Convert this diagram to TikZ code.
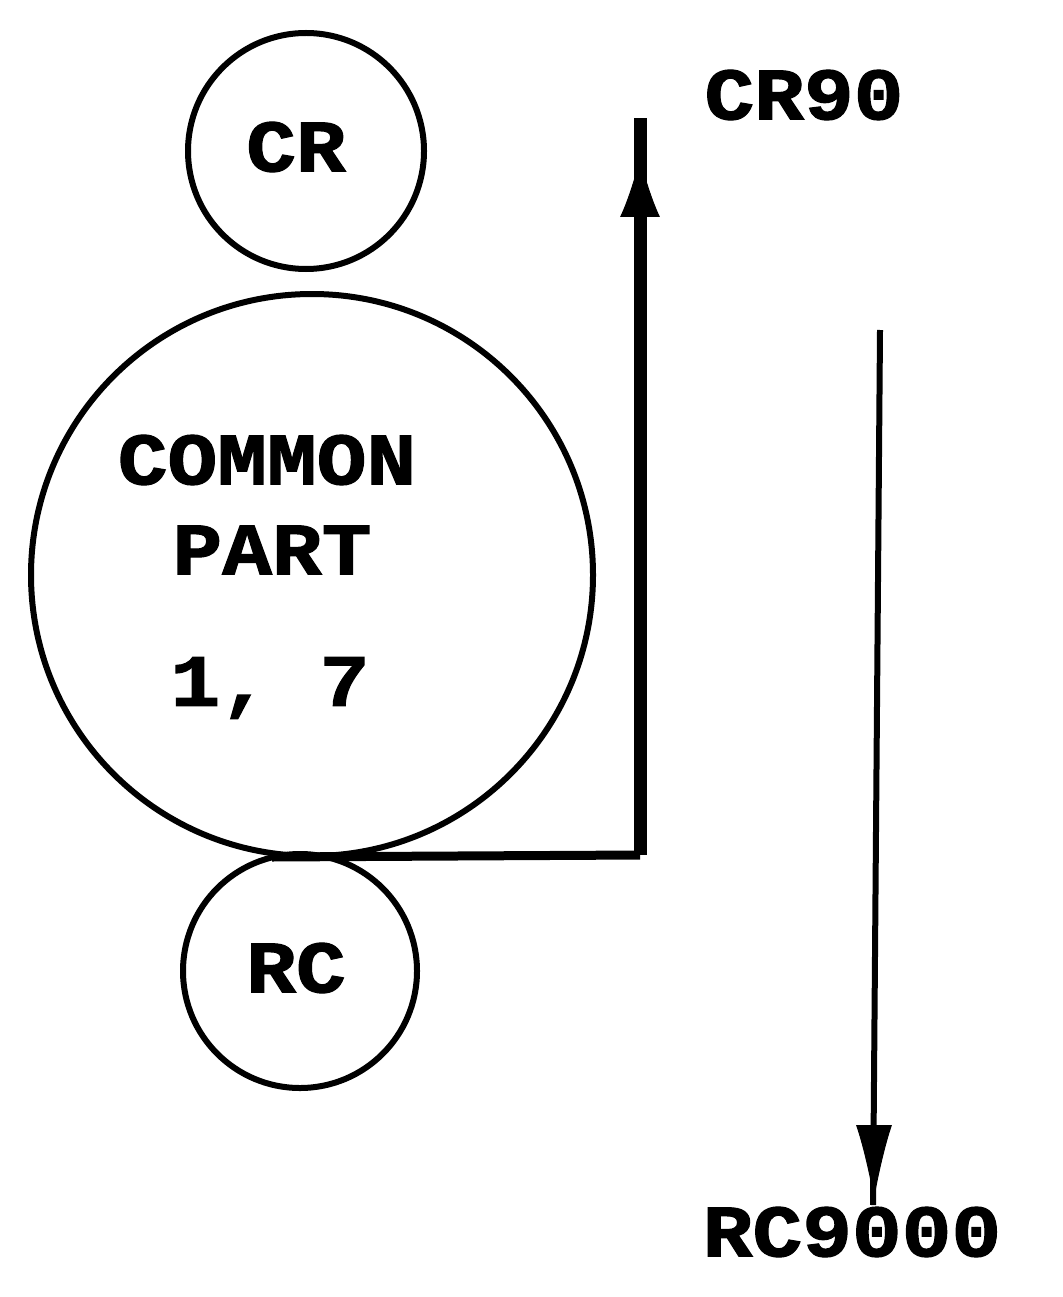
\documentclass[tikz,border=0pt]{standalone}
\usepackage{fontspec}
\setmainfont{Liberation Mono}[BoldFeatures={FakeBold=1.5}]
\usetikzlibrary{arrows.meta}
\tikzset{
  ring/.style={circle, draw, line width=6pt, inner sep=0pt},
  lbl/.style={font=\fontsize{74}{80}\selectfont\bfseries, inner sep=0pt, xscale=1.12},
}
\begin{document}
\begin{tikzpicture}[x=1pt,y=-1pt]
\useasboundingbox (0,0) rectangle (1062,1297);
% the three circles
\node[ring, minimum size=236pt] (cr) at (306,151) {};
\node[ring, minimum size=562pt] (common) at (312,575) {};
\node[ring, minimum size=234pt] (rc) at (300,971) {};
% labels inside the circles
\node[lbl] at (296,147) {CR};
\node[lbl] at (267,460) {COMMON};
\node[lbl] at (272,550) {PART};
\node[lbl] at (270,688) {1, 7};
\node[lbl] at (296,968) {RC};
% external labels
\node[lbl] (cr90) at (804,95) {CR90};
\node[lbl] (rc9000) at (852,1232) {RC9000};
% connector from the common part up towards CR90
\coordinate (corner) at (640,855);
\coordinate (uptop) at (640,118);
\draw[line width=9pt] (common.south) ++(-40,-2) -- (corner);
\draw[line width=13pt] (corner) -- (uptop);
\draw[line width=1pt, fill, {Latex[length=60pt,width=40pt]}-] (640,157) -- (640,230);
% line coming down to RC9000
\coordinate (downtop) at (880,330);
\coordinate (downend) at (873,1205);
\draw[line width=6pt] (downtop) -- (downend);
\draw[line width=1pt, -{Latex[length=75pt,width=36pt]}] (874,1120) -- (874,1200);
\end{tikzpicture}
\end{document}
